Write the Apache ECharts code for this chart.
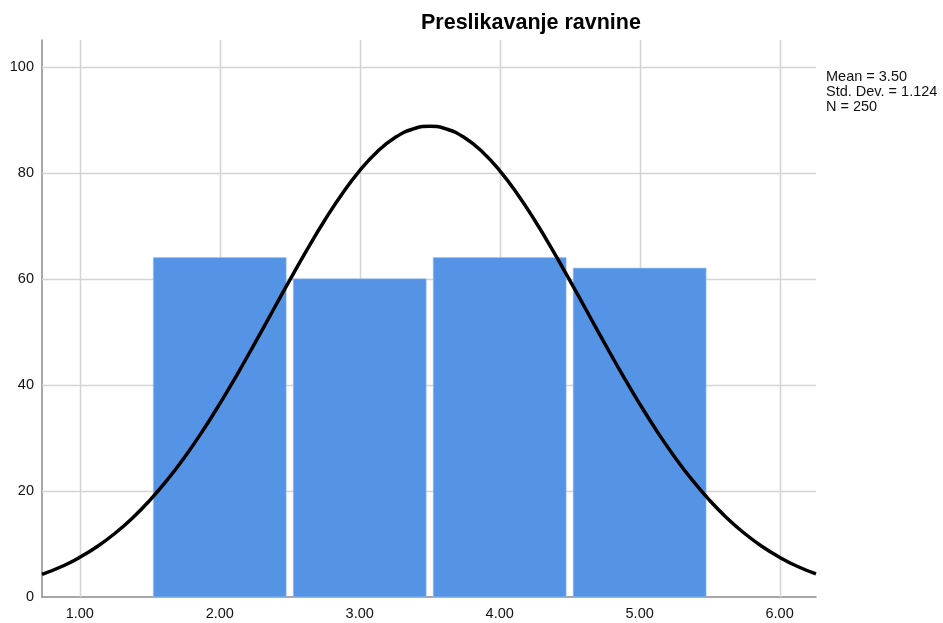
<!DOCTYPE html>
<html>
<head>
<meta charset="utf-8">
<script src="https://cdn.jsdelivr.net/npm/echarts@6/dist/echarts.min.js"></script>
<style>html,body{margin:0;padding:0;background:#fff}#c{width:943px;height:623px}</style>
</head>
<body>
<div id="c"></div>
<script>
// Histogram bins: [start, end, count]
var binStart = [1.5, 2.5, 3.5, 4.5];
var binEnd   = [2.5, 3.5, 4.5, 5.5];
var counts   = [64, 60, 64, 62];
// x tick labels
var xTicks = [1, 2, 3, 4, 5, 6];
var yTicks = [0, 20, 40, 60, 80, 100];
// Normal curve points
var curveX = [0.73, 0.875, 1.0, 1.125, 1.25, 1.375, 1.5, 1.625, 1.75, 1.875, 2.0, 2.125, 2.25, 2.375, 2.5, 2.625, 2.75, 2.875, 3.0, 3.125, 3.25, 3.375, 3.5,
              3.625, 3.75, 3.875, 4.0, 4.125, 4.25, 4.375, 4.5, 4.625, 4.75, 4.875, 5.0, 5.125, 5.25, 5.375, 5.5, 5.625, 5.75, 5.875, 6.0, 6.125, 6.26];
var curveY = [4.26, 5.80, 7.48, 9.52, 11.97, 14.86, 18.22, 22.07, 26.41, 31.20, 36.42, 41.99, 47.81, 53.77, 59.73, 65.54, 71.02, 76.02, 80.37, 83.93, 86.56, 88.18, 88.73,
              88.18, 86.56, 83.93, 80.37, 76.02, 71.02, 65.54, 59.73, 53.77, 47.81, 41.99, 36.42, 31.20, 26.41, 22.07, 18.22, 14.86, 11.97, 9.52, 7.48, 5.80, 4.35];
var statsText = ['Mean = 3.50', 'Std. Dev. = 1.124', 'N = 250'];
var titleText = 'Preslikavanje ravnine';

var X_MIN = 0.73, X_MAX = 6.26, Y_MAX = 105;
var FONT = 'Liberation Sans, Arial, sans-serif';

var chart = echarts.init(document.getElementById('c'));
var barData = binStart.map(function (s, i) { return [s, binEnd[i], counts[i]]; });
var curveData = curveX.map(function (x, i) { return [x, curveY[i]]; });

chart.setOption({
  animation: false,
  backgroundColor: '#fff',
  title: {
    text: titleText, left: 416, top: 7,
    textStyle: { fontFamily: FONT, fontSize: 21.5, fontWeight: 'bold', color: '#000' }
  },
  grid: { left: 42, right: 127, top: 40, bottom: 26, containLabel: false },
  xAxis: {
    type: 'value', min: X_MIN, max: X_MAX,
    axisLine: { show: true, lineStyle: { color: '#8a8a8a', width: 1.5 } },
    axisTick: { show: false },
    splitLine: { show: false },
    axisLabel: {
      customValues: xTicks,
      formatter: function (v) { return v.toFixed(2); },
      fontFamily: FONT, fontSize: 14.5, color: '#111', margin: 9
    }
  },
  yAxis: {
    type: 'value', min: 0, max: Y_MAX, interval: 20,
    axisLine: { show: true, lineStyle: { color: '#8a8a8a', width: 1.5 } },
    axisTick: { show: false },
    splitLine: { show: false },
    axisLabel: {
      showMaxLabel: false,
      formatter: function (v) { return v % 20 === 0 ? String(v) : ''; },
      fontFamily: FONT, fontSize: 14.5, color: '#111', margin: 8
    }
  },
  graphic: [{
    type: 'text', left: 826, top: 69,
    style: { text: statsText.join('\n'), fontFamily: FONT, fontSize: 14.5, lineHeight: 15, fill: '#111' }
  }],
  series: [
    {
      type: 'custom', z: 1, silent: true,
      data: xTicks.map(function (t) { return [t]; }),
      renderItem: function (params, api) {
        var a = api.coord([api.value(0), 0]);
        var b = api.coord([api.value(0), Y_MAX]);
        return { type: 'line', shape: { x1: Math.round(a[0]) + 0.5, y1: a[1], x2: Math.round(b[0]) + 0.5, y2: b[1] },
                 style: { stroke: '#d4d4d4', lineWidth: 1.5 } };
      }
    },
    {
      type: 'custom', z: 1, silent: true,
      data: yTicks.slice(1).map(function (t) { return [t]; }),
      renderItem: function (params, api) {
        var a = api.coord([X_MIN, api.value(0)]);
        var b = api.coord([X_MAX, api.value(0)]);
        return { type: 'line', shape: { x1: a[0], y1: Math.round(a[1]) + 0.5, x2: b[0], y2: Math.round(b[1]) + 0.5 },
                 style: { stroke: '#d4d4d4', lineWidth: 1.5 } };
      }
    },
    {
      type: 'custom', z: 2, silent: true,
      data: barData,
      renderItem: function (params, api) {
        var p0 = api.coord([api.value(0), 0]);
        var p1 = api.coord([api.value(1), api.value(2)]);
        var inset = 3.5;
        return {
          type: 'rect',
          shape: { x: p0[0] + inset, y: p1[1], width: p1[0] - p0[0] - 2 * inset, height: p0[1] - p1[1] },
          style: { fill: '#5594E5', stroke: '#a9c6ee', lineWidth: 0.6 }
        };
      }
    },
    {
      type: 'line', z: 3, silent: true,
      data: curveData, smooth: true, showSymbol: false, symbol: 'none',
      lineStyle: { color: '#000', width: 3.5 }
    }
  ]
});
</script>
</body>
</html>
